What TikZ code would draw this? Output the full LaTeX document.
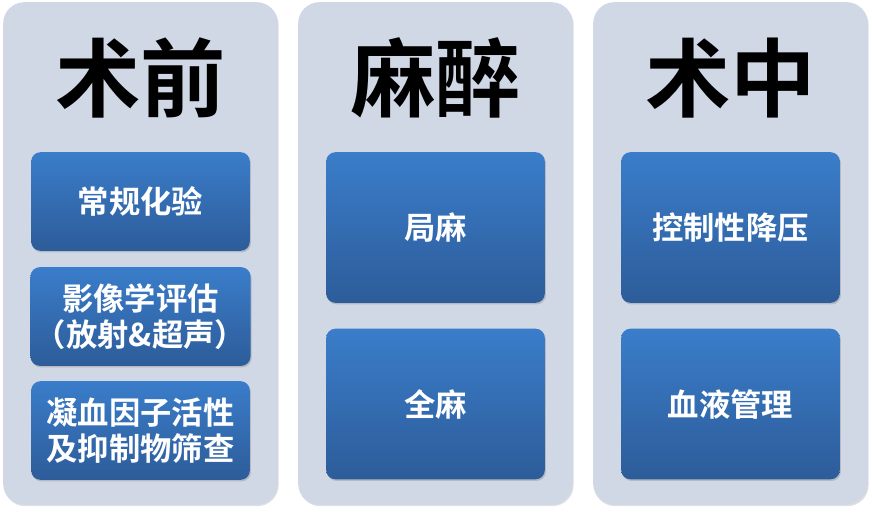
\documentclass[tikz,border=0pt]{standalone}
\usepackage{fontspec}
\setmainfont{Noto Sans CJK SC}[BoldFont={* Bold}]
\usetikzlibrary{shadows}
\definecolor{panelbg}{HTML}{D0D8E6}
\definecolor{boxtop}{HTML}{3A7DCA}
\definecolor{boxbot}{HTML}{2D5C99}
\tikzstyle{panel} = [rounded corners=16pt,fill=panelbg,minimum width=206pt,minimum height=377pt,
	drop shadow={opacity=0.25,shadow xshift=0.6pt,shadow yshift=-1pt}]
\tikzstyle{title} = [font=\bfseries\fontsize{64}{70}\selectfont,text=black]
\tikzstyle{item} = [rounded corners=7pt,top color=boxtop,middle color=boxtop!60!boxbot,bottom color=boxbot,
	minimum width=164pt,text=white,align=center,font=\bfseries\fontsize{23.5}{27}\selectfont,
	drop shadow={opacity=0.35,shadow xshift=0.8pt,shadow yshift=-1.2pt}]

\begin{document}
\begin{tikzpicture}[x=0.75pt,y=-0.75pt]
\useasboundingbox[fill=white] (0,0) rectangle (872,512);

\foreach \x/\name/\head in {140.5/pre/术前,435.5/anes/麻醉,730.5/intra/术中}{
	\node[panel] (panel-\name) at (\x,253.5) {};
	\node[title] (title-\name) at (\x,78) {\head};
}

% pre-operative checks
\node[item,minimum height=74pt] (lab) at (140.5,201.5) {常规化验};
\node[item,minimum height=74pt] (img) at (140.5,316.5) {影像学评估\\（放射\&超声）};
\node[item,minimum height=74pt] (coag) at (140.5,430.5) {凝血因子活性\\及抑制物筛查};

% anesthesia
\node[item,minimum height=113pt] (local) at (435.5,227.5) {局麻};
\node[item,minimum height=113pt] (general) at (435.5,404) {全麻};

% intra-operative
\node[item,minimum height=113pt] (bp) at (730.5,227.5) {控制性降压};
\node[item,minimum height=113pt] (blood) at (730.5,404) {血液管理};
\end{tikzpicture}
\end{document}
